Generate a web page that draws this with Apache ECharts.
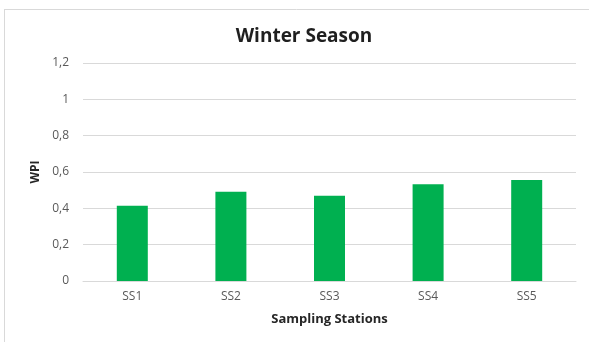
<!DOCTYPE html>
<html>
<head>
<meta charset="utf-8">
<script src="https://cdn.jsdelivr.net/npm/echarts@6/dist/echarts.min.js"></script>
<style>
html,body{margin:0;padding:0;background:#fff;}
#chart{width:589px;height:342px;}
</style>
</head>
<body>
<div id="chart"></div>
<script>
// Water pollution index per sampling station, winter season
const stations = ['SS1', 'SS2', 'SS3', 'SS4', 'SS5'];
const wpiValues = [0.414, 0.491, 0.469, 0.532, 0.556];
const yTicks = [0, 0.2, 0.4, 0.6, 0.8, 1, 1.2];

const FONT = '"Open Sans", "Noto Sans", sans-serif';
const chart = echarts.init(document.getElementById('chart'));

chart.setOption({
  backgroundColor: '#ffffff',
  animation: false,
  title: {
    text: 'Winter Season',
    left: 299,
    textAlign: 'center',
    top: 22,
    textStyle: { fontFamily: FONT, fontSize: 19, fontWeight: 'bold', color: '#1f1f1f' }
  },
  graphic: [
    { type: 'line', shape: { x1: 4, y1: 9.5, x2: 589, y2: 9.5 }, style: { stroke: '#d9d9d9', lineWidth: 1 } },
    { type: 'line', shape: { x1: 4.5, y1: 9, x2: 4.5, y2: 342 }, style: { stroke: '#d9d9d9', lineWidth: 1 } }
  ],
  grid: { left: 83, right: 13, top: 63, bottom: 61 },
  xAxis: {
    type: 'category',
    data: stations,
    name: 'Sampling Stations',
    nameLocation: 'middle',
    nameGap: 32,
    nameTextStyle: { fontFamily: FONT, fontSize: 13, fontWeight: 'bold', color: '#262626' },
    axisLine: { lineStyle: { color: '#d9d9d9' } },
    axisTick: { show: false },
    axisLabel: { fontFamily: FONT, fontSize: 12, color: '#595959', margin: 10 }
  },
  yAxis: {
    type: 'value',
    min: yTicks[0],
    max: yTicks[yTicks.length - 1],
    interval: 0.2,
    name: 'WPI',
    nameLocation: 'middle',
    nameGap: 38,
    nameTextStyle: { fontFamily: FONT, fontSize: 12, fontWeight: 'bold', color: '#262626' },
    axisLine: { show: false },
    axisTick: { show: false },
    splitLine: { lineStyle: { color: '#d9d9d9', width: 1 } },
    axisLabel: {
      fontFamily: FONT, fontSize: 12, color: '#595959', margin: 14,
      formatter: v => String(Math.round(v * 10) / 10).replace('.', ',')
    }
  },
  series: [{
    type: 'bar',
    data: wpiValues,
    barWidth: 31,
    itemStyle: { color: '#00b050' }
  }]
});
</script>
</body>
</html>
